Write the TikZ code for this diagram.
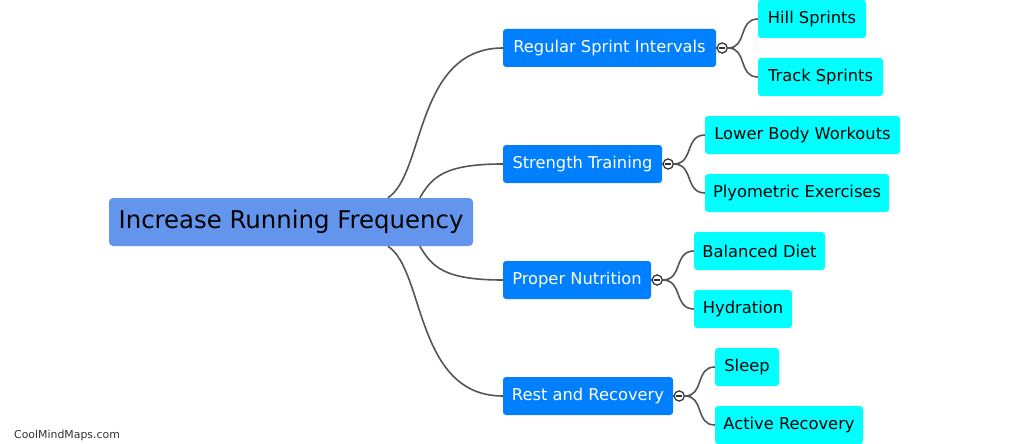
\documentclass[tikz,border=0pt]{standalone}
\usepackage{fontspec}
\setmainfont{DejaVu Sans}
\usetikzlibrary{calc}
\definecolor{rootc}{HTML}{6495ED}
\definecolor{bluec}{HTML}{0080FF}
\definecolor{cyanc}{HTML}{00FFFF}
\definecolor{linec}{HTML}{555555}
\definecolor{markc}{HTML}{333333}
\begin{document}
\begin{tikzpicture}[x=1pt,y=-1pt,
  rootbox/.style={fill=rootc, rounded corners=4pt, text=black, inner sep=0pt, minimum height=48pt, font=\fontsize{24.4}{28}\selectfont},
  lonebox/.style={fill=bluec, rounded corners=3pt, text=white, inner sep=0pt, minimum height=38pt, font=\fontsize{16.3}{19}\selectfont},
  ltwobox/.style={fill=cyanc, rounded corners=3pt, text=black, inner sep=0pt, minimum height=38pt, font=\fontsize{16.3}{19}\selectfont},
  conn/.style={draw=linec, line width=1.6pt},
  toggle/.style={circle, draw=markc, fill=white, line width=1.1pt, minimum size=10pt, inner sep=0pt},
  wmark/.style={text=markc, font=\fontsize{10.9}{12}\selectfont, anchor=west, inner sep=0pt}
]
\useasboundingbox (0,0) rectangle (1022,444);

% root
\node[rootbox, minimum width=364pt] (root) at (291,222) {Increase Running Frequency};

% level 1
\node[lonebox, minimum width=213pt] (a) at (609.5,48) {Regular Sprint Intervals};
\node[lonebox, minimum width=159pt] (b) at (582.5,164) {Strength Training};
\node[lonebox, minimum width=148pt] (c) at (577,280) {Proper Nutrition};
\node[lonebox, minimum width=170pt] (d) at (588,396) {Rest and Recovery};

% level 2
\node[ltwobox, minimum width=108pt] (a1) at (812,19) {Hill Sprints};
\node[ltwobox, minimum width=125pt] (a2) at (820.5,77) {Track Sprints};
\node[ltwobox, minimum width=195pt] (b1) at (802.5,135) {Lower Body Workouts};
\node[ltwobox, minimum width=184pt] (b2) at (797,193) {Plyometric Exercises};
\node[ltwobox, minimum width=131pt] (c1) at (759.5,251) {Balanced Diet};
\node[ltwobox, minimum width=98pt] (c2) at (743,309) {Hydration};
\node[ltwobox, minimum width=64pt] (d1) at (747,367) {Sleep};
\node[ltwobox, minimum width=148pt] (d2) at (789,425) {Active Recovery};

% root connectors
\coordinate (ra) at ($(root.north west)+(279,0)$);
\coordinate (rb) at ($(root.north west)+(311,0)$);
\coordinate (rc) at ($(root.south west)+(311,0)$);
\coordinate (rd) at ($(root.south west)+(279,0)$);
\draw[conn] (ra) .. controls +(37,-23) and +(-88,0) .. (a.west);
\draw[conn] (rb) .. controls +(12,-20) and +(-60,0) .. (b.west);
\draw[conn] (rc) .. controls +(12,20) and +(-60,0) .. (c.west);
\draw[conn] (rd) .. controls +(37,23) and +(-88,0) .. (d.west);

% toggles
\foreach \p in {a,b,c,d}{
  \node[toggle] (t\p) at ($(\p.east)+(6,0)$) {};
}
\foreach \p in {a,b,c,d}{
  \draw[conn] (\p.east) -- (t\p.west);
}
\draw[conn] (ta.east) .. controls +(20,0) and +(-20,0) .. (a1.west);
\draw[conn] (ta.east) .. controls +(20,0) and +(-20,0) .. (a2.west);
\draw[conn] (tb.east) .. controls +(20,0) and +(-20,0) .. (b1.west);
\draw[conn] (tb.east) .. controls +(20,0) and +(-20,0) .. (b2.west);
\draw[conn] (tc.east) .. controls +(20,0) and +(-20,0) .. (c1.west);
\draw[conn] (tc.east) .. controls +(20,0) and +(-20,0) .. (c2.west);
\draw[conn] (td.east) .. controls +(20,0) and +(-20,0) .. (d1.west);
\draw[conn] (td.east) .. controls +(20,0) and +(-20,0) .. (d2.west);
\foreach \p in {a,b,c,d}{
  \node[toggle] at (t\p) {};
  \draw[draw=markc, line width=1.1pt] ($(t\p.center)+(-2.8,0)$) -- ($(t\p.center)+(2.8,0)$);
}

\node[wmark] (wm) at (14,435) {CoolMindMaps.com};
\end{tikzpicture}
\end{document}
